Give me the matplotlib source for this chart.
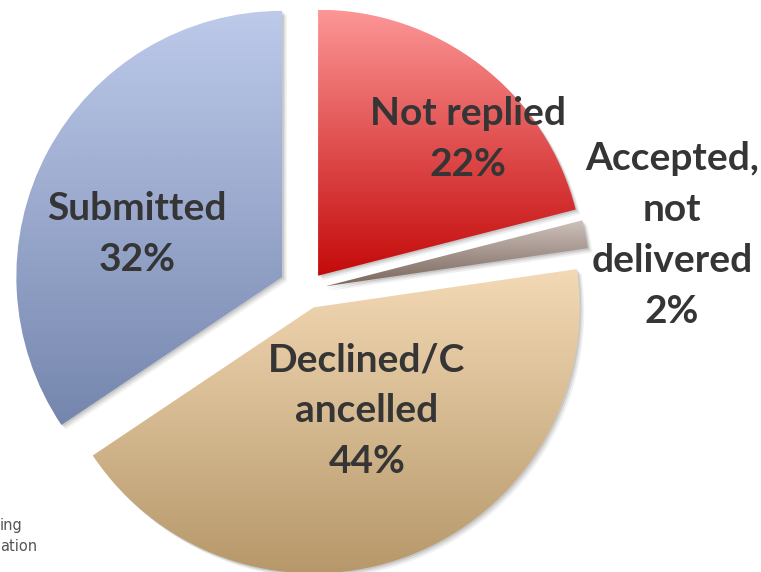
import numpy as np
import matplotlib
matplotlib.use('Agg')
import matplotlib.pyplot as plt
from matplotlib.patches import Wedge
from matplotlib.colors import to_rgb

# slice data, clockwise from 12 o'clock (shares)
labels = ['Not replied\n22%', 'Accepted,\nnot\ndelivered\n2%',
          'Declined/C\nancelled\n44%', 'Submitted\n32%']
shares = [21.0, 1.7, 42.9, 34.4]
explode = [0.068, 0.068, 0.07, 0.105]
top_colors = ['#fd9696', '#cfc3bd', '#f3d9b5', '#bdcaea']
bottom_colors = ['#c40a0a', '#7a665c', '#b6986a', '#7586ae']
# label block centres in pixels (x, y from top)
label_pos = [(468, 139), (672, 235), (367, 411), (137, 234)]

W, H = 761, 572
fig = plt.figure(figsize=(W / 100, H / 100), dpi=100)
ax = fig.add_axes([0, 0, 1, 1])

cx, cy, r = 307, H - 290, 266
wedges, _ = ax.pie(shares, explode=[e * r for e in explode], startangle=90,
                   counterclock=False, center=(cx, cy), radius=r,
                   wedgeprops=dict(facecolor='none', edgecolor='none', zorder=3))

grad = np.linspace(0, 1, 256)[:, None]
for w, ctop, cbot in zip(wedges, top_colors, bottom_colors):
    # soft drop shadow
    for off, a in [(4.5, 0.07), (3, 0.10), (1.5, 0.14)]:
        ax.add_patch(Wedge((w.center[0] + off, w.center[1] - off), w.r,
                           w.theta1, w.theta2, color='#404040', alpha=a,
                           lw=0, zorder=1))
    # vertical gradient clipped to the wedge
    bb = w.get_path().get_extents()
    c0, c1 = np.array(to_rgb(cbot)), np.array(to_rgb(ctop))
    img = (c0 + grad[..., None] * (c1 - c0)).reshape(256, 1, 3)
    im = ax.imshow(img, extent=(bb.x0, bb.x1, bb.y0, bb.y1), origin='lower',
                   aspect='auto', interpolation='bilinear', zorder=2)
    im.set_clip_path(w)

for text, (x, y) in zip(labels, label_pos):
    ax.text(x, H - y, text, ha='center', va='center', fontsize=28,
            fontweight='bold', color='#353535', family=['Lato', 'DejaVu Sans'],
            linespacing=1.55, zorder=5)

ax.text(0, H - 536, 'ing\nation', ha='left', va='center', fontsize=10.5,
        color='#555555', linespacing=1.45)

ax.set_xlim(0, W)
ax.set_ylim(0, H)
ax.set_aspect('equal')
ax.axis('off')
fig.savefig('out.png', dpi=100)
